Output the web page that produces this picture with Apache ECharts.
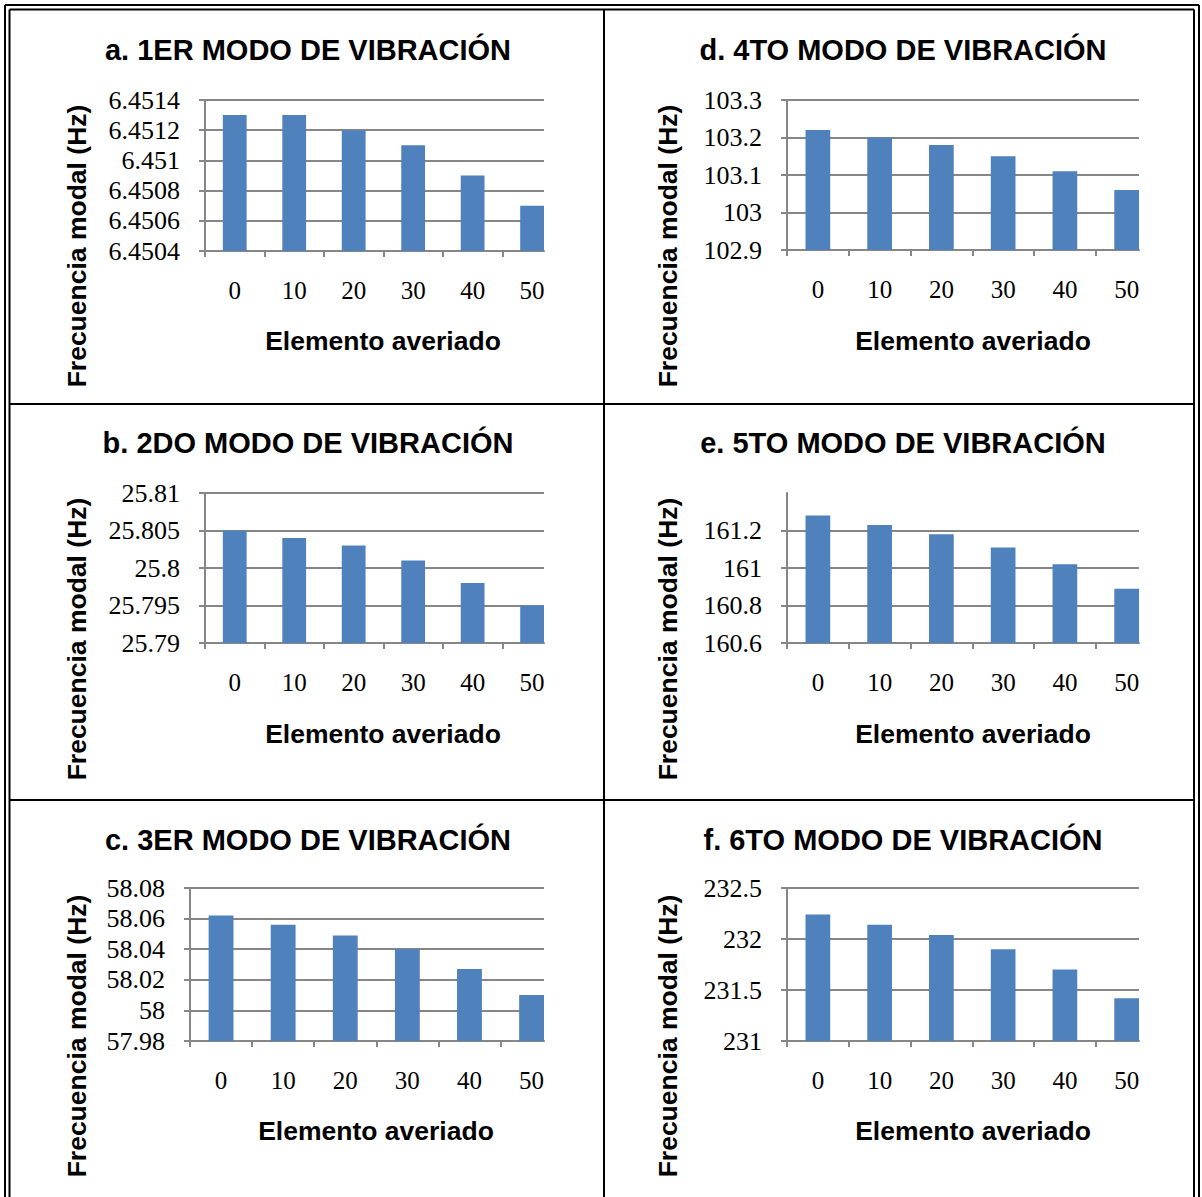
<!DOCTYPE html>
<html>
<head>
<meta charset="UTF-8">
<title>Modos de vibración</title>
<style>
html, body {
    margin: 0;
    padding: 0;
    background: #fff;
}
#chart {
    width: 1202px;
    height: 1197px;
}
</style>
<script src="https://cdn.jsdelivr.net/npm/echarts@6/dist/echarts.min.js"></script>
</head>
<body>
<div id="chart"></div>
<script type="text/javascript">
// elemento averiado (eje x)
var elementos = [0, 10, 20, 30, 40, 50];

// frecuencia modal (Hz) por modo
var modo1 = [6.4513, 6.4513, 6.4512, 6.4511, 6.4509, 6.4507];
var modo2 = [25.805, 25.804, 25.803, 25.801, 25.798, 25.795];
var modo3 = [58.062, 58.056, 58.049, 58.040, 58.027, 58.010];
var modo4 = [103.22, 103.20, 103.18, 103.15, 103.11, 103.06];
var modo5 = [161.28, 161.23, 161.18, 161.11, 161.02, 160.89];
var modo6 = [232.24, 232.14, 232.04, 231.90, 231.70, 231.42];

// marcas del eje y
var ticks1 = ['6.4504', '6.4506', '6.4508', '6.451', '6.4512', '6.4514'];
var ticks2 = ['25.79', '25.795', '25.8', '25.805', '25.81'];
var ticks3 = ['57.98', '58', '58.02', '58.04', '58.06', '58.08'];
var ticks4 = ['102.9', '103', '103.1', '103.2', '103.3'];
var ticks5 = ['160.6', '160.8', '161', '161.2'];
var ticks6 = ['231', '231.5', '232', '232.5'];
var max5 = 161.4; // el 5to modo tiene el eje más alto que la última marca

var titulos = [
    'a. 1ER MODO DE VIBRACIÓN', 'b. 2DO MODO DE VIBRACIÓN', 'c. 3ER MODO DE VIBRACIÓN',
    'd. 4TO MODO DE VIBRACIÓN', 'e. 5TO MODO DE VIBRACIÓN', 'f. 6TO MODO DE VIBRACIÓN'
];
var nombreX = 'Elemento averiado';
var nombreY = 'Frecuencia modal (Hz)';

// posición de cada panel (px)
var paneles = [
    {datos: modo1, ticks: ticks1, max: null, left: 205, top: 100, width: 339, height: 151, tx: 308, ty: 50, nx: 383, ny: 341, yx: 77, yy: 246},
    {datos: modo2, ticks: ticks2, max: null, left: 205, top: 493, width: 339, height: 150, tx: 308, ty: 443, nx: 383, ny: 734, yx: 77, yy: 639},
    {datos: modo3, ticks: ticks3, max: null, left: 190, top: 888, width: 354, height: 153, tx: 308, ty: 840, nx: 376, ny: 1131, yx: 77, yy: 1036},
    {datos: modo4, ticks: ticks4, max: null, left: 787, top: 100, width: 352, height: 150, tx: 903, ty: 50, nx: 973, ny: 341, yx: 668, yy: 246},
    {datos: modo5, ticks: ticks5, max: max5, left: 787, top: 493, width: 352, height: 150, tx: 903, ty: 443, nx: 973, ny: 734, yx: 668, yy: 639},
    {datos: modo6, ticks: ticks6, max: null, left: 787, top: 888, width: 352, height: 153, tx: 903, ty: 840, nx: 973, ny: 1131, yx: 668, yy: 1036}
];

var gris = '#868686';
var serif = 'Liberation Serif';
var sans = 'Liberation Sans';

var myChart = echarts.init(document.getElementById('chart'), null, {renderer: 'svg'});

var grids = [], xAxes = [], yAxes = [], series = [], graphic = [];

function texto(x, y, str, size, rot) {
    graphic.push({
        type: 'text', x: x, y: y, rotation: rot || 0,
        style: {
            text: str, fontFamily: sans, fontWeight: 'bold', fontSize: size,
            fill: '#000', align: 'center', verticalAlign: 'middle'
        }
    });
}

paneles.forEach(function (p, i) {
    var marcas = p.ticks.map(Number);
    grids.push({left: p.left, top: p.top, width: p.width, height: p.height});
    xAxes.push({
        gridIndex: i,
        type: 'value',
        min: -5,
        max: 52,
        axisLine: {onZero: false, lineStyle: {color: gris, width: 2}},
        axisTick: {
            show: true,
            length: 6,
            customValues: elementos.map(function (e) { return e - 5; }),
            lineStyle: {color: gris, width: 2}
        },
        axisLabel: {
            customValues: elementos,
            margin: 27,
            color: '#000',
            fontFamily: serif,
            fontSize: 25
        },
        splitLine: {show: false}
    });
    yAxes.push({
        gridIndex: i,
        type: 'value',
        min: marcas[0],
        max: p.max || marcas[marcas.length - 1],
        axisLine: {show: true, onZero: false, lineStyle: {color: gris, width: 2}},
        axisTick: {show: true, length: 6, customValues: marcas, lineStyle: {color: gris, width: 2}},
        axisLabel: {
            customValues: marcas,
            margin: 25,
            color: '#000',
            fontFamily: serif,
            fontSize: 26,
            formatter: function (v) { return String(parseFloat(Number(v).toFixed(6))); }
        },
        splitLine: {show: true, lineStyle: {color: gris, width: 2}}
    });
    series.push({
        type: 'bar',
        xAxisIndex: i,
        yAxisIndex: i,
        barWidth: '40%',
        data: elementos.map(function (e, j) { return [e, p.datos[j]]; }),
        itemStyle: {color: '#4f81bd'},
        silent: true
    });

    // títulos y nombres de ejes
    texto(p.tx, p.ty, titulos[i], 29);
    texto(p.nx, p.ny, nombreX, 26.5);
    texto(p.yx, p.yy, nombreY, 26.5, Math.PI / 2);
});

// marco de la tabla
function linea(x1, y1, x2, y2, w) {
    graphic.push({
        type: 'line',
        shape: {x1: x1, y1: y1, x2: x2, y2: y2},
        style: {stroke: '#000', lineWidth: w || 2}
    });
}
linea(5, 5, 1199, 5);
linea(5, 5, 5, 1197);
linea(1199, 5, 1199, 1197);
linea(9.5, 9.5, 1194, 9.5);
linea(9.5, 9.5, 9.5, 1197);
linea(1194, 9.5, 1194, 1197);
linea(604, 9.5, 604, 1197);
linea(9.5, 404, 1194, 404);
linea(9.5, 800, 1194, 800);

var option = {
    animation: false,
    grid: grids,
    xAxis: xAxes,
    yAxis: yAxes,
    series: series,
    graphic: graphic
};
myChart.setOption(option);
</script>
</body>
</html>
